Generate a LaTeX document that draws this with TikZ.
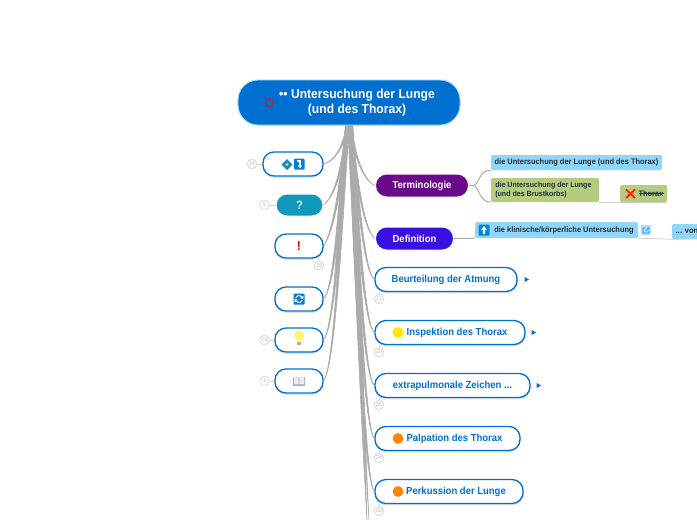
\documentclass[tikz,border=0pt]{standalone}
\usepackage{fontspec}
\setmainfont{Liberation Sans}[FakeStretch=0.93]
\usetikzlibrary{calc,shapes.geometric}
\definecolor{mblue}{HTML}{0070D0}
\definecolor{mpurple}{HTML}{6A0A8A}
\definecolor{mindigo}{HTML}{3A10E0}
\definecolor{mteal}{HTML}{1199BB}
\definecolor{lblue}{HTML}{90D5FA}
\definecolor{lgreen}{HTML}{B5CC80}
\definecolor{connc}{HTML}{ABABAB}
\definecolor{dtext}{HTML}{22313A}
\definecolor{badgec}{HTML}{D4D4D4}
\tikzset{
  pill/.style={rounded corners=11pt,minimum height=#1,inner sep=0pt,font=\bfseries\fontsize{10.2}{12}\selectfont},
  outl/.style={pill=24pt,draw=mblue,line width=1.3pt,fill=white,text=mblue,
     preaction={draw=black!12,line width=1.2pt,transform canvas={yshift=-1.2pt}}},
  solidp/.style={pill=23pt,draw=white,line width=1pt,text=white},
  topic/.style={rounded corners=1.5pt,inner sep=0pt,font=\bfseries\fontsize{8}{9.8}\selectfont,text=dtext},
  badge/.style={circle,draw=badgec,line width=.7pt,fill=white,minimum size=9.5pt,inner sep=0pt,text=badgec!85!black,font=\fontsize{5.5}{6}\selectfont},
  conn/.style={draw=connc,fill=connc,line width=.6pt,line join=round},
  thin conn/.style={draw=connc,line width=1pt},
  stub/.style={draw=badgec,line width=.7pt},
  tri/.style={fill=mblue,draw=none,regular polygon,regular polygon sides=3,shape border rotate=-90,minimum size=6pt,inner sep=0pt},
  roottxt/.style={text=white,font=\bfseries\fontsize{13}{15.2}\selectfont,align=center},
}
% tapered connector from the root to a target: half-width, offset, c1, c2, target
\newcommand\taper[5]{%
  \draw[conn] ($(root.south)+({#2-#1},0)$)
     .. controls ($#3+({-#1},0)$) and ($#4+({-#1*0.5},0)$) .. #5
     .. controls ($#4+({#1*0.5},0)$) and ($#3+({#1},0)$) .. ($(root.south)+({#2+#1},0)$) -- cycle;}
\begin{document}
\begin{tikzpicture}[x=1pt,y=-1pt]
\useasboundingbox (0,0) rectangle (697,520);
\fill[white] (0,0) rectangle (697,520);
% root
\node[rounded corners=20pt,draw=lblue!70!white,line width=.8pt,fill=mblue,text=white,minimum width=222pt,minimum height=45pt,inner sep=0pt] (root) at (349,102.5) {};
% left nodes
\node[outl,minimum width=60pt] (l1) at (293,164) {};
\node[solidp,fill=mteal,minimum width=47pt,minimum height=22pt,text=white!85!mteal] (l2) at (299.5,205) {\fontsize{12}{12}\selectfont ?};
\node[outl,minimum width=48pt] (l3) at (299,246) {\textcolor{red!90!black}{\fontsize{13}{13}\selectfont !}};
\node[outl,minimum width=48pt] (l4) at (299,299) {};
\node[outl,minimum width=48pt] (l5) at (299,340) {};
\node[outl,minimum width=48pt] (l6) at (299,381) {};
% right nodes
\node[solidp,fill=mpurple,minimum width=93pt] (term) at (422,185.5) {Terminologie};
\node[solidp,fill=mindigo,minimum width=78pt] (defn) at (414.5,238.5) {Definition};
\node[outl,minimum width=142pt] (r1) at (446,279.5) {Beurteilung der Atmung};
\node[outl,minimum width=150pt] (r2) at (450,332.5) {\hspace*{14pt}Inspektion des Thorax};
\node[outl,minimum width=155pt] (r3) at (452.5,385.5) {extrapulmonale Zeichen ...};
\node[outl,minimum width=145pt] (r4) at (447.5,438.5) {\hspace*{14pt}Palpation des Thorax};
\node[outl,minimum width=148pt] (r5) at (449,491.5) {\hspace*{14pt}Perkussion der Lunge};
% off-page ends
\coordinate (off1) at (367,520);
\coordinate (off2) at (369,520);
% connectors
\taper{.9}{-2}{(345,140)}{(338,160)}{(l1.east)}
\taper{1.1}{-2}{(343,165)}{(336,195)}{(l2.east)}
\taper{1.3}{-2}{(341,185)}{(334,230)}{(l3.east)}
\taper{1.7}{-2}{(340,205)}{(335,285)}{(l4.east)}
\taper{1.5}{-1.5}{(340,215)}{(335,325)}{(l5.east)}
\taper{1.3}{-1}{(341,225)}{(335,365)}{(l6.east)}
\taper{.9}{2}{(353,150)}{(362,180)}{(term.west)}
\taper{1.1}{2}{(355,170)}{(363,230)}{(defn.west)}
\taper{1.3}{2}{(357,190)}{(364,272)}{(r1.west)}
\taper{1.5}{2}{(357,215)}{(364,325)}{(r2.west)}
\taper{1.6}{2}{(357,245)}{(364,378)}{(r3.west)}
\taper{1.6}{1.5}{(357,275)}{(365,430)}{(r4.west)}
\taper{1.7}{1.5}{(357,305)}{(365,482)}{(r5.west)}
\taper{2.4}{1}{(357,260)}{(362,420)}{(off1)}
\taper{1.4}{2.5}{(359,280)}{(363,420)}{(off2)}
% root on top of its connectors
\node[rounded corners=20pt,draw=lblue!70!white,line width=.8pt,fill=mblue,minimum width=222pt,minimum height=45pt,inner sep=0pt] (rootcap) at (349,102.5) {};
\node[roottxt] (roottext) at (357,103) {•• Untersuchung der Lunge\\(und des Thorax)};
\node[circle,draw=red!70!mblue,line width=1.2pt,minimum size=8pt,inner sep=0pt] (rooticon) at (269.5,102.5) {};
% topics
\node[topic,fill=lblue,minimum width=171pt,minimum height=15pt] (t1) at (576.5,162.5) {die Untersuchung der Lunge (und des Thorax)};
\node[topic,fill=lgreen,minimum width=108pt,minimum height=24pt,inner xsep=3pt,align=left,font=\bfseries\fontsize{7.6}{9.8}\selectfont] (t2) at (545,190) {die Untersuchung der Lunge\\(und des Brustkorbs)\hspace*{28pt}};
\node[topic,fill=lgreen,minimum width=47pt,minimum height=17pt] (t3) at (643.5,193.5) {\hspace*{15pt}Thorax};
\node[topic,fill=lblue,minimum width=163pt,minimum height=16pt] (t4) at (556.5,230) {\hspace*{15pt}die klinische/körperliche Untersuchung};
\node[topic,fill=lblue,minimum width=30pt,minimum height=15pt] (t5) at (687,231.5) {... von};
\node[fill=lblue!75!white,minimum size=10pt,inner sep=0pt,rounded corners=1pt] (t6) at (646,230) {};
\coordinate (fork) at (473,185.5);
\draw[thin conn] (term.east) -- (fork);
\draw[thin conn] (fork) .. controls (480,185) and (478,170) .. (t1.south west);
\draw[thin conn] (fork) .. controls (480,186) and (478,202) .. (t2.south west);
\draw[thin conn,line width=.8pt,draw=connc!60] (t2.south east) -- (t3.south west) -- (t3.south east);
\draw[thin conn] (defn.east) -- (t4.south west);
\draw[thin conn,line width=.8pt,draw=connc!60] (t4.south east) -- (t5.south west) -- (697,239);
% Thorax strike and X
\draw[dtext,line width=.5pt] (638.5,193.5) -- (663.5,193.5);
\draw[red!75!orange,line width=1.8pt] (626,189.5) -- (635,198) (635,189.5) -- (626,198);
% up arrow icon
\fill[mblue!85!cyan,rounded corners=1pt] (478.5,224.5) rectangle (489.5,235.5);
\fill[white] (484,226) -- (487,230) -- (485.2,230) -- (485.2,234) -- (482.8,234) -- (482.8,230) -- (481,230) -- cycle;
% link icon
\draw[mblue!75!lblue,line width=.6pt] (645.5,228) -- (643,228) -- (643,233) -- (649,233) -- (649,231) (646,231) -- (649,228) (647,228) -- (649,228) -- (649,229.5);
% l1 icons
\fill[cyan!70!blue] (287,159) -- (292.5,164.5) -- (287,170) -- (281.5,164.5) -- cycle;
\fill[yellow!85!orange] (287,164.5) circle (1.7pt);
\fill[mblue!90!cyan,rounded corners=1pt] (294,158.5) rectangle (304.5,169.5);
\draw[white,line width=1.1pt] (297,161) -- (300,161) -- (300,167);
\fill[white] (297.8,165.5) -- (302.2,165.5) -- (300,168.2) -- cycle;
% l4 refresh icon
\fill[mblue!90!cyan,rounded corners=1pt] (293.5,293.5) rectangle (304.5,304.5);
\draw[white,line width=1pt] (302.3,297.8) arc[start angle=20,end angle=160,radius=3.5pt];
\draw[white,line width=1pt] (295.7,300.2) arc[start angle=200,end angle=340,radius=3.5pt];
\fill[white] (303.4,295.5) -- (303.4,299) -- (300.2,298.2) -- cycle;
\fill[white] (294.6,302.5) -- (294.6,299) -- (297.8,299.8) -- cycle;
% bulb
\fill[yellow!55!white,draw=yellow!80!orange,line width=.4pt] (299,335.5) circle (3.9pt);
\fill[yellow!55!white] (296.8,338) rectangle (301.2,342);
\fill[gray!60] (297.4,342) rectangle (300.6,345);
% book
\fill[blue!25!gray!55] (293,376.5) rectangle (305,385.5);
\fill[gray!15] (294,376.5) rectangle (298.7,384.3) (299.3,376.5) rectangle (304,384.3);
% bullets
\fill[yellow!90!orange] (398,332.5) circle (5.4pt);
\fill[orange!95!yellow] (398,438.5) circle (5.4pt);
\fill[orange!95!yellow] (398,491.5) circle (5.4pt);
% arrows
\node[tri] (a1) at (526,279.5) {};
\node[tri] (a2) at (533,332.5) {};
\node[tri] (a3) at (538,385.5) {};
% badges
\node[badge] (b1) at (252,164) {14};
\node[badge] (b2) at (264.5,205) {5};
\node[badge] (b3) at (319,265.5) {18};
\node[badge] (b5) at (264.5,340) {10};
\node[badge] (b6) at (264.5,381) {1};
\node[badge] (b7) at (379,299) {11};
\node[badge] (b8) at (379,352) {20};
\node[badge] (b9) at (379,405) {25};
\node[badge] (b10) at (379,458) {24};
\node[badge] (b11) at (379,511) {60};
\draw[stub] (b1) -- (l1);
\draw[stub] (b2) -- (l2);
\draw[stub] (b5) -- (l5);
\draw[stub] (b6) -- (l6);
\draw[stub] (b3.north) -- (318,258);
\draw[stub] (b7.north) -- (379,291.5);
\draw[stub] (b8.north) -- (379,344.5);
\draw[stub] (b9.north) -- (379,397.5);
\draw[stub] (b10.north) -- (379,450.5);
\draw[stub] (b11.north) -- (379,503.5);
\end{tikzpicture}
\end{document}
